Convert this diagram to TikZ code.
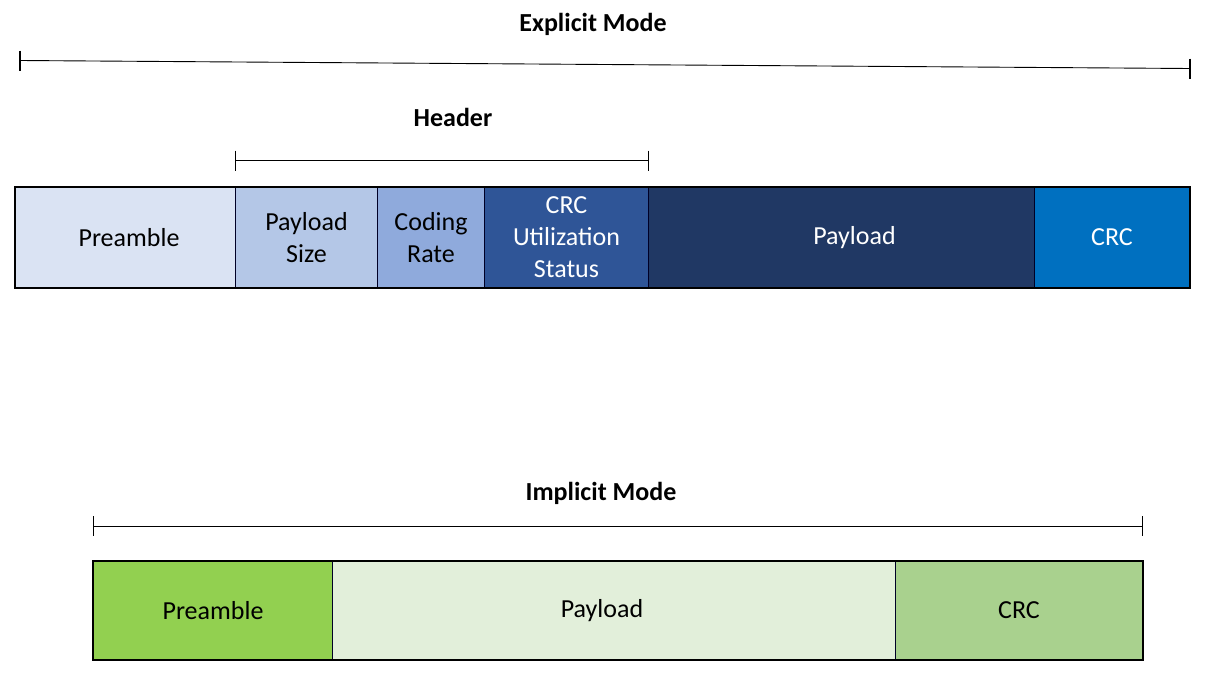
\documentclass[tikz,border=0pt]{standalone}
\usepackage{fontspec}
\setmainfont{Carlito}
\begin{document}
\begin{tikzpicture}[x=1pt,y=-1pt,
  cell/.style={draw=black!85!blue, line width=1pt, anchor=north west, inner sep=0pt,
    align=center, font=\fontsize{26}{32}\selectfont},
  frame/.style={draw=black, line width=2.4pt},
  span/.style={line width=0.9pt, black},
  tick/.style={line width=1.2pt, black},
  title/.style={font=\fontsize{26}{30}\selectfont\bfseries}]
\useasboundingbox (0,0) rectangle (1206,688);

% ---- explicit mode frame ----
\node[title] (explicit) at (593,24) {Explicit Mode};
\coordinate (eL) at (20,60.5);
\coordinate (eR) at (1190,68.5);
\draw[span] (eL) -- (eR);
\draw[tick] ([yshift=10pt]eL) -- ([yshift=-10pt]eL);
\draw[tick] ([yshift=10pt]eR) -- ([yshift=-10pt]eR);

\node[title] (header) at (453,117) {Header};
\coordinate (hL) at (235.5,160.5);
\coordinate (hR) at (648.5,160.5);
\draw[span] (hL) -- (hR);
\draw[tick] ([yshift=10pt]hL) -- ([yshift=-10pt]hL);
\draw[tick] ([yshift=10pt]hR) -- ([yshift=-10pt]hR);

\node[cell, fill={rgb,255:red,218;green,227;blue,243}, minimum width=220, minimum height=100] (pre) at (15,187) {\hspace{7pt}Preamble};
\node[cell, fill={rgb,255:red,180;green,199;blue,231}, minimum width=142, minimum height=100] (psize) at (235,187) {Payload\\Size};
\node[cell, fill={rgb,255:red,143;green,170;blue,220}, minimum width=107, minimum height=100] (rate) at (377,187) {Coding\\Rate};
\node[cell, fill={rgb,255:red,47;green,85;blue,151}, text=white, minimum width=164, minimum height=100] (crcus) at (484,187) {CRC\\Utilization\\Status};
\node[cell, fill={rgb,255:red,32;green,56;blue,100}, text=white, minimum width=386, minimum height=100] (pay) at (648,187) {\hspace{26pt}\raisebox{4pt}{Payload}};
\node[cell, fill={rgb,255:red,0;green,112;blue,192}, text=white, minimum width=155, minimum height=100] (crc) at (1034,187) {CRC};
\draw[frame] (pre.north west) rectangle (crc.south east);

% ---- implicit mode frame ----
\node[title] (implicit) at (601,493) {Implicit Mode};
\coordinate (iL) at (93.5,526);
\coordinate (iR) at (1142.5,526);
\draw[span] (iL) -- (iR);
\draw[tick] ([yshift=10pt]iL) -- ([yshift=-10pt]iL);
\draw[tick] ([yshift=10pt]iR) -- ([yshift=-10pt]iR);

\node[cell, fill={rgb,255:red,146;green,208;blue,80}, minimum width=239, minimum height=98] (ipre) at (93,561) {Preamble};
\node[cell, fill={rgb,255:red,226;green,239;blue,218}, minimum width=563, minimum height=98] (ipay) at (332,561) {Payload\hspace{24pt}};
\node[cell, fill={rgb,255:red,169;green,209;blue,142}, minimum width=247, minimum height=98] (icrc) at (895,561) {CRC};
\draw[frame] (ipre.north west) rectangle (icrc.south east);
\end{tikzpicture}
\end{document}
